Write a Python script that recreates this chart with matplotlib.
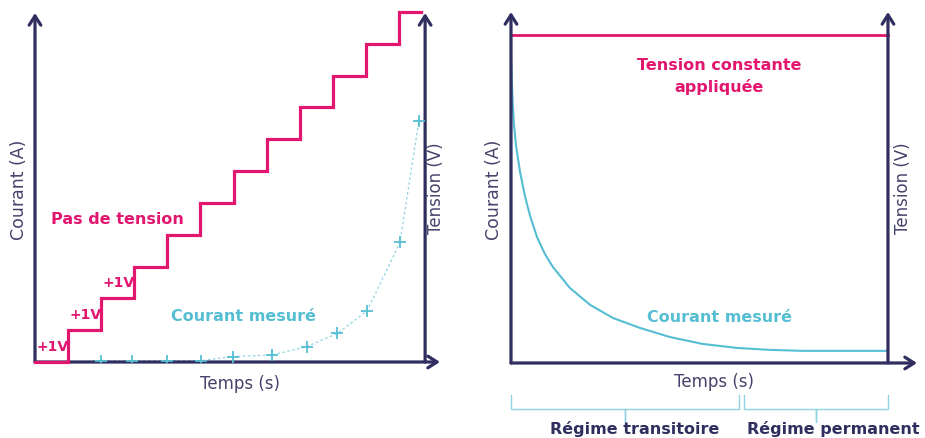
import matplotlib.pyplot as plt

# couleurs
NAVY = "#2F2E5F"
LABEL = "#45436B"
MAGENTA = "#E2156F"
CYAN = "#55BED2"
CYAN_LIGHT = "#8FD3E2"

plt.rcParams['font.family'] = ['DejaVu Sans']

# --- panneau gauche : pas de tension + courant mesuré ---
step_times = [0, 1, 2, 3, 4, 5, 6, 7, 8, 9, 10, 11]
step_volts = [0, 1, 2, 3, 4, 5, 6, 7, 8, 9, 10, 11]
step_end = 11.67

cross_t = [1.99, 2.92, 3.98, 5.01, 5.97, 7.15, 8.21, 9.14, 10.04, 11.03, 11.60]
cross_i = [0.04, 0.04, 0.04, 0.04, 0.17, 0.22, 0.48, 0.90, 1.61, 3.76, 7.56]
fit_start = (1.0, 0.0)

# --- panneau droit : tension constante + courant transitoire ---
const_volt = 10.0
decay_t = [0.0, 0.04, 0.08, 0.13, 0.24, 0.37, 0.50, 0.69, 0.90, 1.11, 1.56,
           2.10, 2.71, 3.42, 4.22, 5.09, 5.99, 6.87, 7.75, 8.99, 10.0]
decay_i = [9.30, 8.02, 7.26, 6.65, 5.82, 5.09, 4.51, 3.84, 3.32, 2.93, 2.29,
           1.77, 1.37, 1.07, 0.79, 0.58, 0.46, 0.40, 0.37, 0.37, 0.37]
regimes = [("Régime transitoire", 0.0, 6.05), ("Régime permanent", 6.18, 10.0)]

W, H = 925, 438
fig = plt.figure(figsize=(W / 100, H / 100), dpi=100)


def px_axes(left, right, bottom, top):
    return fig.add_axes([left / W, (H - bottom) / H, (right - left) / W, (bottom - top) / H])


def arrow(ax, start, end, coords):
    ax.annotate("", xy=end, xytext=start, xycoords=coords, textcoords=coords,
                arrowprops=dict(arrowstyle="->,head_length=0.55,head_width=0.35",
                                lw=2.3, color=NAVY, mutation_scale=12,
                                shrinkA=0, shrinkB=0),
                annotation_clip=False, zorder=3)


def frame(ax, right_t):
    ax.set_axis_off()
    arrow(ax, (0, 0), (1, 0), "axes fraction")
    arrow(ax, (0, 0), (0, 1), "axes fraction")
    arrow(ax, (right_t, 0), (right_t, 1), ("data", "axes fraction"))


# gauche
ax1 = px_axes(35, 440, 362, 13)
ax1.set_xlim(0, 12.24)
ax1.set_ylim(0, 10.97)
frame(ax1, 11.79)

ax1.plot([fit_start[0]] + cross_t, [fit_start[1]] + cross_i, ls=(0, (2, 2)),
         lw=0.9, color=CYAN_LIGHT, zorder=2)
ax1.plot(cross_t, cross_i, ls="none", marker="+", ms=8, mew=1.3, color=CYAN, zorder=4)
ax1.step(step_times + [step_end], step_volts + [step_volts[-1]], where="post",
         lw=2.3, color=MAGENTA, clip_on=False, zorder=5, solid_joinstyle="miter")

for k in range(1, 4):
    ax1.text(step_times[k] - 0.48, step_volts[k] - 0.53, "+1V", color=MAGENTA,
             fontsize=10, fontweight="bold", ha="center", va="center")
ax1.text(2.49, 4.47, "Pas de tension", color=MAGENTA, fontsize=11.5,
         fontweight="bold", ha="center", va="center")
ax1.text(6.29, 1.42, "Courant mesuré", color=CYAN, fontsize=11.5,
         fontweight="bold", ha="center", va="center")
ax1.text(6.2, -0.69, "Temps (s)", color=LABEL, fontsize=12, ha="center", va="center")
ax1.text(-0.48, 5.41, "Courant (A)", color=LABEL, fontsize=12.5, rotation=90,
         ha="center", va="center")
ax1.text(12.12, 5.47, "Tension (V)", color=LABEL, fontsize=12, rotation=90,
         ha="center", va="center")

# droite
ax2 = px_axes(511, 917, 363, 12)
ax2.set_xlim(0, 10.77)
ax2.set_ylim(0, 10.70)
frame(ax2, 10.0)

ax2.plot([0, 10.0], [const_volt, const_volt], lw=2.0, color=MAGENTA, zorder=2)
ax2.plot(decay_t, decay_i, lw=1.5, color=CYAN, zorder=2, solid_joinstyle="round")

ax2.text(5.52, 8.73, "Tension constante\nappliquée", color=MAGENTA, fontsize=11.5,
         fontweight="bold", ha="center", va="center", linespacing=1.45)
ax2.text(5.54, 1.40, "Courant mesuré", color=CYAN, fontsize=11.5,
         fontweight="bold", ha="center", va="center")
ax2.text(5.38, -0.58, "Temps (s)", color=LABEL, fontsize=12, ha="center", va="center")
ax2.text(-0.45, 5.27, "Courant (A)", color=LABEL, fontsize=12.5, rotation=90,
         ha="center", va="center")
ax2.text(10.4, 5.34, "Tension (V)", color=LABEL, fontsize=12, rotation=90,
         ha="center", va="center")

# accolades sous l'axe du temps
text_x = [3.29, 8.54]
for (name, t0, t1), tx in zip(regimes, text_x):
    tm = (t0 + t1) / 2
    ax2.plot([t0, t0, tm, tm, tm, t1, t1],
             [-0.98, -1.40, -1.40, -1.80, -1.40, -1.40, -0.98],
             lw=1.0, color=CYAN_LIGHT, clip_on=False, solid_joinstyle="round")
    ax2.text(tx, -2.16, name, color=NAVY, fontsize=11.5, fontweight="bold",
             ha="center", va="baseline")

fig.savefig("out.png", dpi=100)
